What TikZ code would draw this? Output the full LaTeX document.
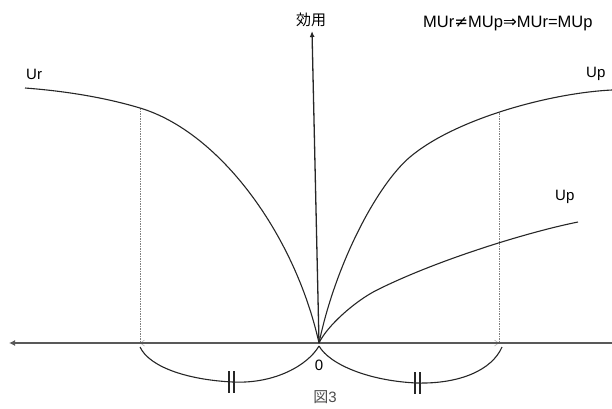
\documentclass[tikz,border=0pt]{standalone}
\usepackage{fontspec}
\setmainfont{Liberation Sans}
\newfontfamily\jpfont{Noto Sans CJK JP}
\newfontfamily\symfont{DejaVu Sans}
\usetikzlibrary{arrows.meta}

\tikzset{
  curve/.style={
    line width=1.1pt,
    draw=black!85
  },
  guide/.style={
    gray,
    line width=0.5pt,
    dash pattern=on 1.5pt off 1pt
  },
  label/.style={
    font=\fontsize{15}{18}\selectfont,
    inner sep=0pt
  }
}

\begin{document}
\begin{tikzpicture}[x=1pt,y=-1pt]
  \useasboundingbox (0,0) rectangle (612,408);

  \coordinate (O) at (319,343);
  \coordinate (xl) at (9,343);
  \coordinate (xr) at (612,343);
  \coordinate (yt) at (312,31);
  \coordinate (r1) at (140,108);
  \coordinate (r0) at (140,343);
  \coordinate (p1) at (499,113);
  \coordinate (p0) at (499,343);

  \draw[guide] (r1) -- (r0);
  \draw[guide] (p1) -- (p0);
  \draw[gray!60, line width=0.6pt, {Straight Barb[length=4pt,width=6pt]}-{Straight Barb[length=4pt,width=6pt]}]
    (r0) -- (p0);

  \draw[line width=2pt, black!65, -{Latex[length=6pt,width=6pt]}] (xr) -- (xl);
  \draw[line width=1.3pt, black!85, -{Latex[length=6pt,width=5pt]}] (O) -- (yt);

  \draw[curve] (25,88) .. controls (65,91) and (105,97.5) .. (r1)
    .. controls (220,132) and (295,235) .. (O);

  \draw[curve] (O) .. controls (336,262) and (378,184) .. (410,157)
    .. controls (455,119) and (550,93) .. (612,90);

  \draw[curve] (O) .. controls (327,326) and (355,301) .. (377,290)
    .. controls (437,260) and (528,232) .. (578,222);

  % braces under the axis
  \draw[curve] (140,347) .. controls (150,368) and (190,380) .. (233,382)
    .. controls (275,384) and (308,365) .. (319,346);
  \draw[curve] (319,346) .. controls (330,365) and (370,381) .. (417,383)
    .. controls (460,384) and (492,370) .. (502,347);
  \draw[curve] (229,371) -- (229,393);
  \draw[curve] (234,371) -- (234,393);
  \draw[curve] (415,372) -- (415,394);
  \draw[curve] (420,372) -- (420,394);

  \node[label, anchor=base] (yl) at (311,25) {\jpfont 効用};
  \node[label, anchor=base west, font=\fontsize{16.5}{19}\selectfont] (mu) at (423,27.5)
    {MUr{\symfont ≠}MUp{\symfont ⇒}MUr=MUp};
  \node[label, anchor=base west] (ur) at (26,79) {Ur};
  \node[label, anchor=base west] (up1) at (586,77) {Up};
  \node[label, anchor=base west] (up2) at (555,200.5) {Up};
  \node[label, anchor=base] (zero) at (319,370) {0};
  \node[label, anchor=base, black!70] (fig) at (325,402.5) {{\jpfont 図}3};
\end{tikzpicture}
\end{document}
